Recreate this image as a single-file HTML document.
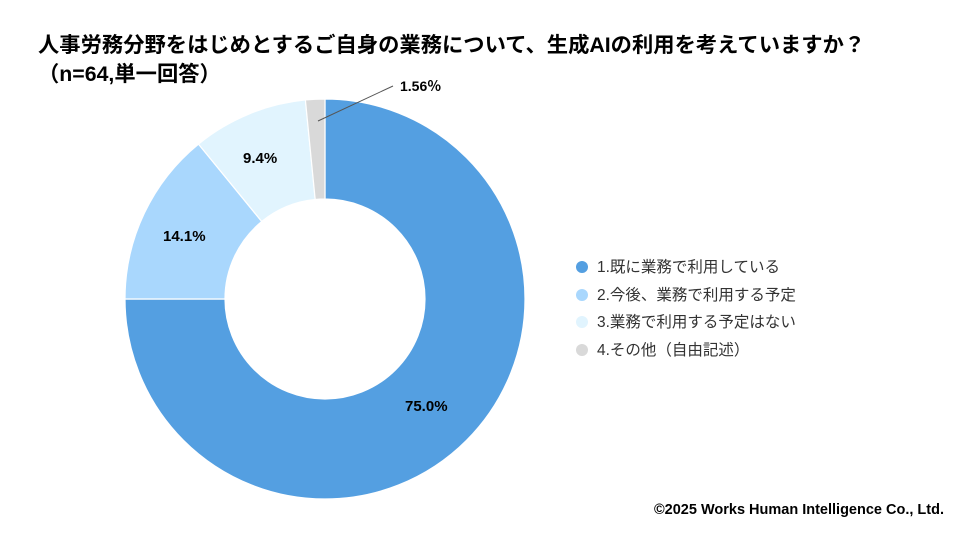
<!DOCTYPE html>
<html><head><meta charset="utf-8"><style>
body{margin:0;width:960px;height:540px;background:#fff;overflow:hidden;font-family:"Liberation Sans","Noto Sans CJK JP",sans-serif;}
</style></head><body>
<svg width="960" height="540" xmlns="http://www.w3.org/2000/svg" style="font-family:'Liberation Sans','Noto Sans CJK JP',sans-serif">
<text x="38" y="52" font-size="21.3" font-weight="bold" fill="#000">人事労務分野をはじめとするご自身の業務について、生成AIの利用を考えていますか？</text>
<text x="38" y="81" font-size="21.3" font-weight="bold" fill="#000">（n=64,単一回答）</text>
<g stroke="#fff" stroke-width="1.2">
<path d="M325,99 A200,200 0 1 1 125,299 L225,299 A100,100 0 1 0 325,199 Z" fill="#549fe1"/>
<path d="M125,299 A200,200 0 0 1 198.5,144.1 L261.75,221.5 A100,100 0 0 0 225,299 Z" fill="#a9d7fd"/>
<path d="M198.5,144.1 A200,200 0 0 1 305.4,99.96 L315.2,199.5 A100,100 0 0 0 261.75,221.5 Z" fill="#e1f4fe"/>
<path d="M305.4,99.96 A200,200 0 0 1 325,99 L325,199 A100,100 0 0 0 315.2,199.5 Z" fill="#d9d9d9"/>
</g>
<line x1="318" y1="121" x2="393" y2="86" stroke="#555" stroke-width="1"/>
<g font-size="15" font-weight="bold" fill="#000">
<text x="400" y="91" font-size="14">1.56％</text>
<text x="243" y="163">9.4%</text>
<text x="163" y="241">14.1%</text>
<text x="405" y="411">75.0%</text>
</g>
<g font-size="15.5" fill="#333">
<circle cx="582" cy="267" r="6" fill="#549fe1"/><text x="597" y="272">1.既に業務で利用している</text>
<circle cx="582" cy="295" r="6" fill="#a9d7fd"/><text x="597" y="300">2.今後、業務で利用する予定</text>
<circle cx="582" cy="322" r="6" fill="#e1f4fe"/><text x="597" y="327">3.業務で利用する予定はない</text>
<circle cx="582" cy="350" r="6" fill="#d9d9d9"/><text x="597" y="355">4.その他（自由記述）</text>
</g>
<text x="944" y="514" font-size="14.5" font-weight="bold" fill="#000" text-anchor="end">©2025 Works Human Intelligence Co., Ltd.</text>
</svg>
</body></html>
